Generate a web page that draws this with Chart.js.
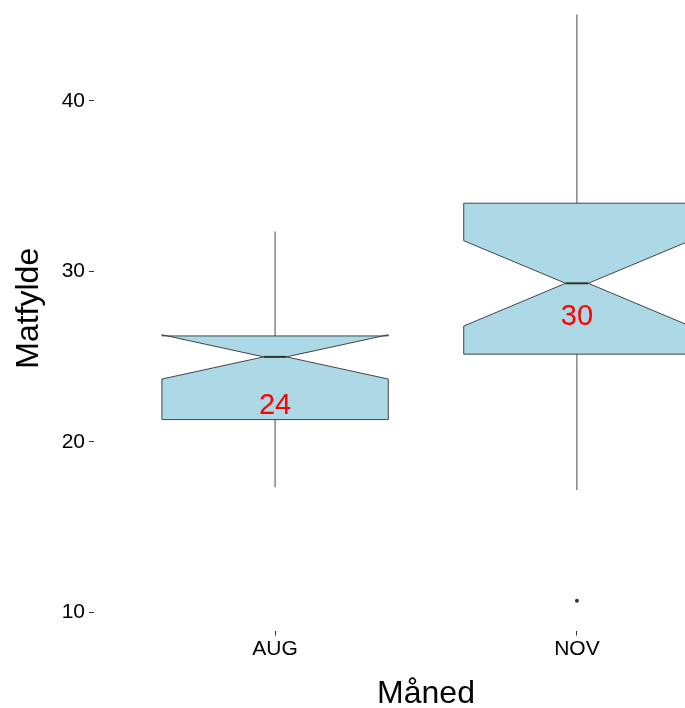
<!DOCTYPE html>
<html>
<head>
<meta charset="utf-8">
<script src="https://cdn.jsdelivr.net/npm/chart.js@4.4.1/dist/chart.umd.min.js"></script>
<style>
  html, body { margin: 0; padding: 0; background: #fff; overflow: hidden; width: 685px; height: 708px; }
  #wrap { position: absolute; left: 0; top: -18px; width: 766px; height: 734px; }
</style>
</head>
<body>
<div id="wrap"><canvas id="chart" width="766" height="734"></canvas></div>
<script>
// Month categories and the five-number summaries of "Matfylde" per month
const months      = ['AUG', 'NOV'];
const whiskerLow  = [17.33, 17.16];
const q1          = [21.30, 25.14];
const median      = [24.98, 29.30];
const q3          = [26.21, 34.00];
const whiskerHigh = [32.34, 45.08];
// Notch limits around the median
const notchLow    = [23.68, 26.79];
const notchHigh   = [26.28, 31.80];
// Points beyond the whiskers
const outliers    = [[], [10.67]];
// Rounded mean shown in each box, and the height it is written at
const meanText    = ['24', '30'];
const meanTextY   = [22.08, 27.32];
const yTicks      = [10, 20, 30, 40];

const FONT = '"Liberation Sans", Arial, Helvetica, sans-serif';
const BOX_HALF = 0.375;     // half of the box width, in category units
const NOTCH_WIDTH = 0.1;    // width of the median line relative to the box

const outlierPoints = [];
outliers.forEach((list, i) => list.forEach(v => outlierPoints.push({ x: i + 1, y: v })));

const notchedBoxes = {
  id: 'notchedBoxes',
  beforeDatasetsDraw(chart) {
    const { ctx, scales: { x, y } } = chart;
    ctx.save();
    months.forEach((m, i) => {
      const c = i + 1;
      const xl = x.getPixelForValue(c - BOX_HALF);
      const xr = x.getPixelForValue(c + BOX_HALF);
      const xc = x.getPixelForValue(c);
      const indent = (1 - NOTCH_WIDTH) * (xr - xl) / 2;
      const Y = v => y.getPixelForValue(v);

      // whiskers
      ctx.strokeStyle = '#333333';
      ctx.lineWidth = 0.9;
      ctx.beginPath();
      ctx.moveTo(xc, Y(q3[i])); ctx.lineTo(xc, Y(whiskerHigh[i]));
      ctx.moveTo(xc, Y(q1[i])); ctx.lineTo(xc, Y(whiskerLow[i]));
      ctx.stroke();

      // notched box
      ctx.beginPath();
      ctx.moveTo(xl, Y(q3[i]));
      ctx.lineTo(xl, Y(notchHigh[i]));
      ctx.lineTo(xl + indent, Y(median[i]));
      ctx.lineTo(xl, Y(notchLow[i]));
      ctx.lineTo(xl, Y(q1[i]));
      ctx.lineTo(xr, Y(q1[i]));
      ctx.lineTo(xr, Y(notchLow[i]));
      ctx.lineTo(xr - indent, Y(median[i]));
      ctx.lineTo(xr, Y(notchHigh[i]));
      ctx.lineTo(xr, Y(q3[i]));
      ctx.closePath();
      ctx.fillStyle = '#ADD8E6';
      ctx.fill();
      ctx.strokeStyle = '#333333';
      ctx.lineWidth = 0.9;
      ctx.stroke();

      // median
      ctx.beginPath();
      ctx.lineWidth = 2;
      ctx.moveTo(xl + indent, Y(median[i]));
      ctx.lineTo(xr - indent, Y(median[i]));
      ctx.stroke();
    });
    ctx.restore();
  },
  afterDatasetsDraw(chart) {
    const { ctx, scales: { x, y } } = chart;
    ctx.save();
    ctx.fillStyle = '#FF0000';
    ctx.font = '29px ' + FONT;
    ctx.textAlign = 'center';
    ctx.textBaseline = 'middle';
    months.forEach((m, i) => {
      ctx.fillText(meanText[i], x.getPixelForValue(i + 1), y.getPixelForValue(meanTextY[i]));
    });
    ctx.restore();
  }
};

new Chart(document.getElementById('chart'), {
  type: 'scatter',
  data: {
    datasets: [{
      data: outlierPoints,
      pointRadius: 2,
      pointBackgroundColor: '#333333',
      pointBorderWidth: 0
    }]
  },
  options: {
    responsive: false,
    animation: false,
    layout: { padding: { left: 0, right: 8, top: 0, bottom: 0 } },
    plugins: { legend: { display: false }, tooltip: { enabled: false } },
    scales: {
      x: {
        type: 'linear',
        min: 0.4,
        max: 2.6,
        afterBuildTicks: s => { s.ticks = months.map((m, i) => ({ value: i + 1 })); },
        afterFit: s => { s.height = 85.5; s.paddingLeft = 0; s.paddingRight = 0; },
        ticks: {
          callback: v => months[Math.round(v) - 1],
          font: { family: FONT, size: 21, lineHeight: 1 },
          color: '#000000',
          padding: 3,
          maxRotation: 0,
          autoSkip: false
        },
        grid: { drawOnChartArea: false, drawTicks: true, tickLength: 5, color: '#333333', lineWidth: 1 },
        border: { display: false },
        title: {
          display: true,
          text: 'Måned',
          color: '#000000',
          font: { family: FONT, size: 32, lineHeight: 1.2 },
          padding: { top: 0, bottom: 3 }
        }
      },
      y: {
        min: 8.92,
        max: 46.75,
        afterBuildTicks: s => { s.ticks = yTicks.map(v => ({ value: v })); },
        afterFit: s => { s.width = 94; s.paddingTop = 0; s.paddingBottom = 0; },
        ticks: {
          font: { family: FONT, size: 21 },
          color: '#000000',
          padding: 4
        },
        grid: { drawOnChartArea: false, drawTicks: true, tickLength: 5, color: '#333333', lineWidth: 1 },
        border: { display: false },
        title: {
          display: true,
          text: 'Matfylde',
          color: '#000000',
          font: { family: FONT, size: 32, lineHeight: 1.2 },
          padding: { top: 10, bottom: 0 }
        }
      }
    }
  },
  plugins: [notchedBoxes]
});
</script>
</body>
</html>
